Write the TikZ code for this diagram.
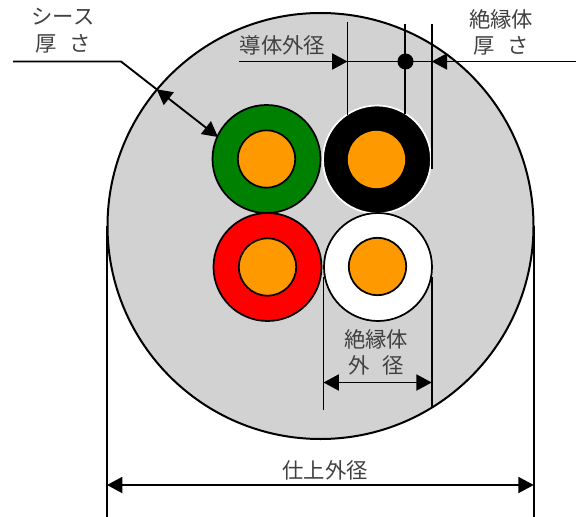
\documentclass[tikz,border=0pt]{standalone}
\usepackage{fontspec}
\newfontfamily\cjk{Noto Sans CJK JP}
\usetikzlibrary{arrows.meta}
\definecolor{sheathgray}{HTML}{D2D2D2}
\definecolor{coreorange}{HTML}{FF9900}
\definecolor{insgreen}{HTML}{008000}

\begin{document}
\begin{tikzpicture}
    [
      x=0.75pt,y=-0.75pt,
      inner sep=0pt,
      sheath/.style={circle,draw=black,line width=1.5pt,fill=sheathgray,minimum size=319.5pt},
      insulator/.style={circle,draw=black,line width=1.3pt,minimum size=81pt},
      core/.style={circle,draw=black,line width=1.3pt,fill=coreorange,minimum size=43pt},
      dimline/.style={line width=1.4pt,draw=black},
      dimarrow/.style={dimline,{Triangle[length=11.5pt,width=12pt]}-{Triangle[length=11.5pt,width=12pt]}},
      leadarrow/.style={dimline,-{Triangle[length=11.5pt,width=12pt]}},
      label/.style={font=\cjk\fontsize{16pt}{18pt}\selectfont,text=black!75}
    ]
    \useasboundingbox (0,0) rectangle (585,517);

    % cable
    \node at (320.5,226) [sheath] (cable) {};
    \node at (266.5,159) [insulator,fill=insgreen] (greenins) {};
    \node at (377,159.5) [insulator,fill=black,draw=white] (blackins) {};
    \node at (267.5,267) [insulator,fill=red] (redins) {};
    \node at (378,267) [insulator,fill=white] (whiteins) {};
    \node at (266.5,159) [core] (greencore) {};
    \node at (376.5,159.5) [core,draw=none] (blackcore) {};
    \node at (267.5,267) [core] (redcore) {};
    \node at (377.5,266.5) [core] (whitecore) {};

    % conductor and insulation thickness
    \coordinate (condtop) at (347.5,22);
    \coordinate (condbot) at (347.5,115);
    \coordinate (midtop) at (405,24);
    \coordinate (midbot) at (405,114);
    \coordinate (instop) at (431.7,24);
    \coordinate (insbot) at (431.7,169);
    \coordinate (condleft) at (239,61.5);
    \coordinate (condtip) at (347.5,61.5);
    \coordinate (insright) at (576,61.5);
    \coordinate (instip) at (431.7,61.5);
    \node at (405.5,61.5) [circle,fill=black,minimum size=12pt] (middot) {};
    \draw [dimline] (condtop) -- (condbot);
    \draw [dimline] (midtop) -- (midbot);
    \draw [dimline] (instop) -- (insbot);
    \draw [dimline] (condtip) -- (instip);
    \draw [leadarrow] (condleft) -- (condtip);
    \draw [leadarrow] (insright) -- (instip);

    % sheath thickness
    \coordinate (sheathleft) at (13,61.5);
    \coordinate (sheathbend) at (121,61.5);
    \coordinate (sheathout) at (156.7,89.3);
    \coordinate (sheathin) at (218,137);
    \draw [dimline] (sheathleft) -- (sheathbend) -- (sheathout);
    \draw [dimarrow] (sheathout) -- (sheathin);

    % insulation outer diameter
    \coordinate (odlefttop) at (323.5,277);
    \coordinate (odleftbot) at (323.5,410);
    \coordinate (odrighttop) at (431.7,277);
    \coordinate (odrightbot) at (431.7,408);
    \coordinate (odlefttip) at (323.5,382.5);
    \coordinate (odrighttip) at (431.7,382.5);
    \draw [dimline] (odlefttop) -- (odleftbot);
    \draw [dimline] (odrighttop) -- (odrightbot);
    \draw [dimarrow] (odlefttip) -- (odrighttip);

    % finished outer diameter
    \coordinate (fdlefttop) at (107,226);
    \coordinate (fdleftbot) at (107,517);
    \coordinate (fdrighttop) at (533.7,226);
    \coordinate (fdrightbot) at (533.7,517);
    \coordinate (fdlefttip) at (107,485);
    \coordinate (fdrighttip) at (533.7,485);
    \draw [dimline] (fdlefttop) -- (fdleftbot);
    \draw [dimline] (fdrighttop) -- (fdrightbot);
    \draw [dimarrow] (fdlefttip) -- (fdrighttip);

    % labels
    \node at (63,17) [label] (sheathtexta) {シース};
    \node at (63,44) [label] (sheathtextb) {厚\hspace{0.6em}さ};
    \node at (282.5,45) [label] (condtext) {導体外径};
    \node at (501,19) [label] (instexta) {絶縁体};
    \node at (501,46) [label] (instextb) {厚\hspace{0.6em}さ};
    \node at (376,339) [label] (odtexta) {絶縁体};
    \node at (376,365) [label] (odtextb) {外\hspace{0.6em}径};
    \node at (325,470) [label] (fdtext) {仕上外径};
  \end{tikzpicture}
\end{document}
